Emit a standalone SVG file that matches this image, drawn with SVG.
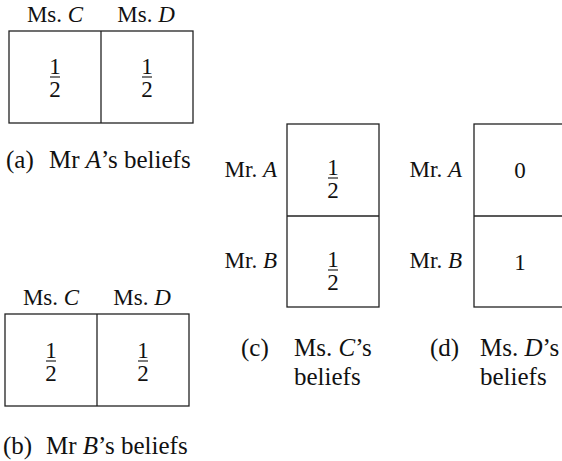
<svg xmlns="http://www.w3.org/2000/svg" width="562" height="461" viewBox="0 0 562 461">
<style>
text{font-family:"Liberation Serif","Times New Roman",serif;font-size:23px;fill:#111}
.cap{font-size:25px}
.c{text-anchor:middle}
.e{text-anchor:end}
.i{font-style:italic}
.box{fill:#fff;stroke:#222;stroke-width:1.3}
.bar{stroke:#111;stroke-width:1.1}
</style>
<defs>
<g id="half">
<text class="c" x="0" y="-3">1</text>
<line class="bar" x1="-5" y1="0" x2="5" y2="0"/>
<text class="c" x="0" y="20">2</text>
</g>
</defs>
<g id="a">
<text class="c" x="55" y="22">Ms. <tspan class="i">C</tspan></text>
<text class="c" x="146" y="22">Ms. <tspan class="i">D</tspan></text>
<rect class="box" x="9" y="31" width="184" height="92"/>
<line class="box" x1="101" y1="31" x2="101" y2="123"/>
<use href="#half" x="55" y="77"/>
<use href="#half" x="147" y="77"/>
<text class="cap" x="6" y="168">(a)</text>
<text class="cap" x="49" y="168">Mr <tspan class="i">A</tspan>’s beliefs</text>
</g>
<g id="b">
<text class="c" x="51" y="305">Ms. <tspan class="i">C</tspan></text>
<text class="c" x="142" y="305">Ms. <tspan class="i">D</tspan></text>
<rect class="box" x="5" y="314" width="184" height="92"/>
<line class="box" x1="97" y1="314" x2="97" y2="406"/>
<use href="#half" x="51" y="361"/>
<use href="#half" x="143" y="361"/>
<text class="cap" x="3" y="454">(b)</text>
<text class="cap" x="46" y="454">Mr <tspan class="i">B</tspan>’s beliefs</text>
</g>
<g id="c">
<text class="e" x="277" y="177">Mr. <tspan class="i">A</tspan></text>
<text class="e" x="277" y="268">Mr. <tspan class="i">B</tspan></text>
<rect class="box" x="287" y="124" width="92" height="183"/>
<line class="box" x1="287" y1="216" x2="379" y2="216"/>
<use href="#half" x="333" y="178"/>
<use href="#half" x="333" y="270"/>
<text class="cap" x="241" y="356">(c)</text>
<text class="cap" x="294" y="356">Ms. <tspan class="i">C</tspan>’s</text>
<text class="cap" x="294" y="385">beliefs</text>
</g>
<g id="d">
<text class="e" x="462" y="177">Mr. <tspan class="i">A</tspan></text>
<text class="e" x="462" y="268">Mr. <tspan class="i">B</tspan></text>
<rect class="box" x="474" y="124" width="92" height="183"/>
<line class="box" x1="474" y1="216" x2="566" y2="216"/>
<text class="c" x="520" y="178">0</text>
<text class="c" x="520" y="270">1</text>
<text class="cap" x="430" y="356">(d)</text>
<text class="cap" x="480" y="356">Ms. <tspan class="i">D</tspan>’s</text>
<text class="cap" x="480" y="385">beliefs</text>
</g>
</svg>
